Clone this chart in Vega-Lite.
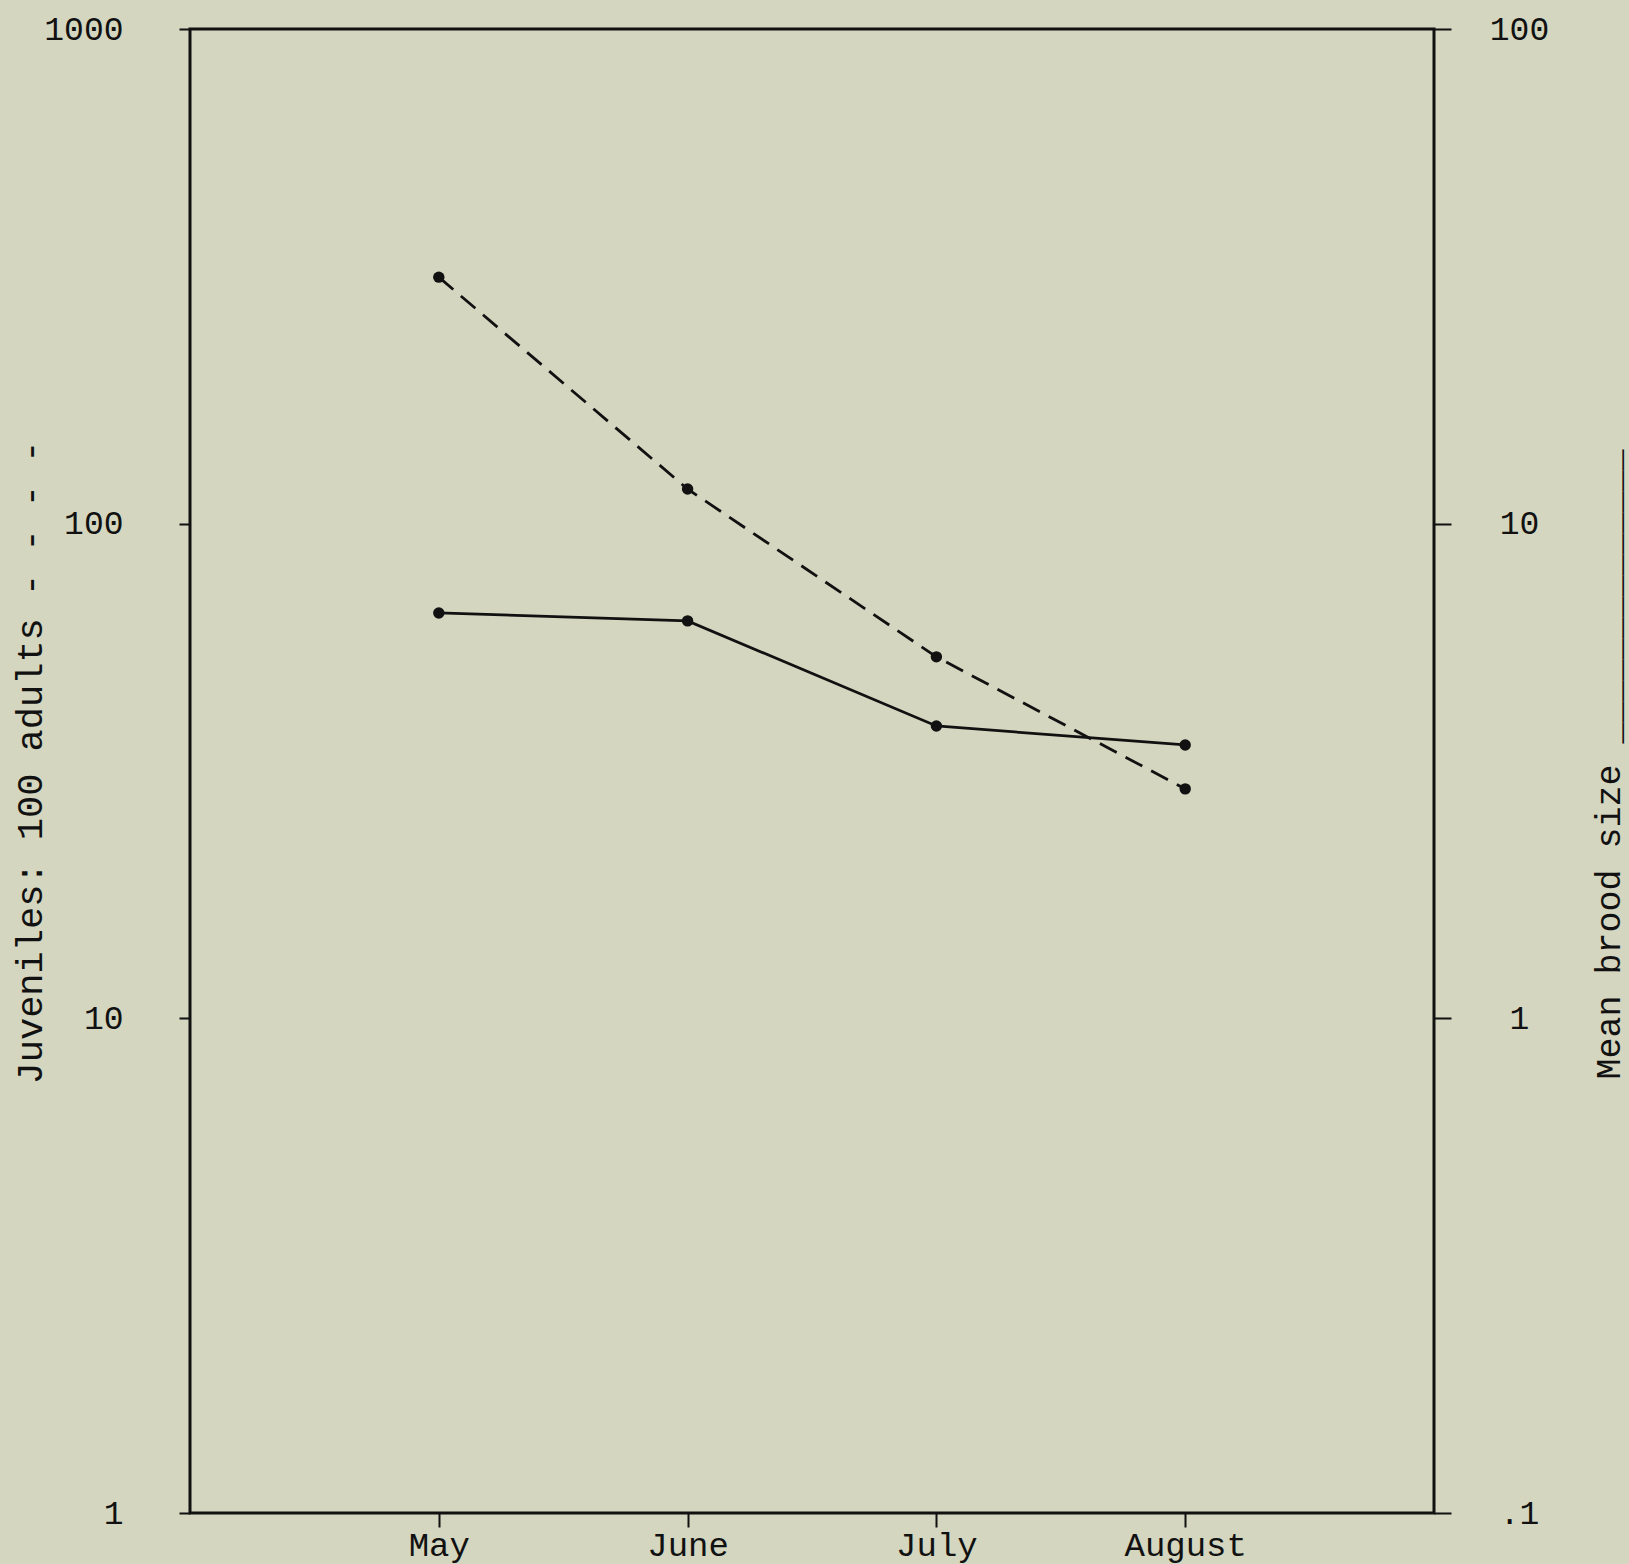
{
  "$schema": "https://vega.github.io/schema/vega-lite/v6.json",
  "width": 1244,
  "height": 1484,
  "autosize": {"type": "none"},
  "padding": {"left": 190, "top": 29, "right": 195, "bottom": 51},
  "background": "#d4d6bf",
  "config": {
    "view": {"stroke": "#111111", "strokeWidth": 3},
    "font": "Liberation Mono",
    "axis": {"grid": false, "labelColor": "#111111", "titleColor": "#111111", "tickColor": "#111111", "labelFont": "Liberation Mono", "titleFont": "Liberation Mono", "titleFontWeight": "normal"}
  },
  "data": {
    "values": [
      {"month": "May", "juveniles": 315, "brood": 6.6},
      {"month": "June", "juveniles": 117.5, "brood": 6.36},
      {"month": "July", "juveniles": 53.8, "brood": 3.9},
      {"month": "August", "juveniles": 29.1, "brood": 3.57}
    ]
  },
  "encoding": {
    "x": {
      "field": "month",
      "type": "ordinal",
      "sort": ["May", "June", "July", "August"],
      "scale": {"type": "point", "padding": 1.02},
      "axis": {"title": null, "domain": false, "labelAngle": 0, "labelFontSize": 34, "tickSize": 14, "tickWidth": 2, "labelPadding": 1}
    }
  },
  "layer": [
    {
      "encoding": {
        "y": {
          "field": "juveniles",
          "type": "quantitative",
          "scale": {"type": "log", "domain": [1, 1000]},
          "axis": {
            "orient": "left",
            "values": [1, 10, 100, 1000],
            "format": "d",
            "domain": false,
            "tickSize": 11,
            "tickWidth": 2,
            "labelPadding": 56,
            "labelFontSize": 33,
            "labelFlush": false,
            "labelOverlap": false,
            "labelBaseline": "middle",
            "title": "Juveniles: 100 adults - - - -",
            "titleFontSize": 37,
            "titleAngle": -90,
            "titleAlign": "center",
            "titleBaseline": "middle",
            "titleX": -160,
            "titleY": 733
          }
        }
      },
      "layer": [
        {"mark": {"type": "line", "color": "#111111", "strokeWidth": 2.8, "strokeDash": [19, 10]}},
        {"mark": {"type": "point", "filled": true, "color": "#111111", "size": 130, "opacity": 1}}
      ]
    },
    {
      "encoding": {
        "y": {
          "field": "brood",
          "type": "quantitative",
          "scale": {"type": "log", "domain": [0.1, 100]},
          "axis": {
            "orient": "right",
            "values": [0.1, 1, 10, 100],
            "labelExpr": "datum.value < 1 ? '.1' : toString(datum.value)",
            "domain": false,
            "tickSize": 17,
            "tickWidth": 2,
            "labelPadding": 68,
            "labelAlign": "center",
            "labelFontSize": 33,
            "labelFlush": false,
            "labelOverlap": false,
            "labelBaseline": "middle",
            "title": "Mean brood size ______________",
            "titleFontSize": 35,
            "titleAngle": -90,
            "titleAlign": "center",
            "titleBaseline": "middle",
            "titleX": 174,
            "titleY": 735
          }
        }
      },
      "layer": [
        {"mark": {"type": "line", "color": "#111111", "strokeWidth": 2.8}},
        {"mark": {"type": "point", "filled": true, "color": "#111111", "size": 130, "opacity": 1}}
      ]
    }
  ],
  "resolve": {"scale": {"y": "independent"}}
}
